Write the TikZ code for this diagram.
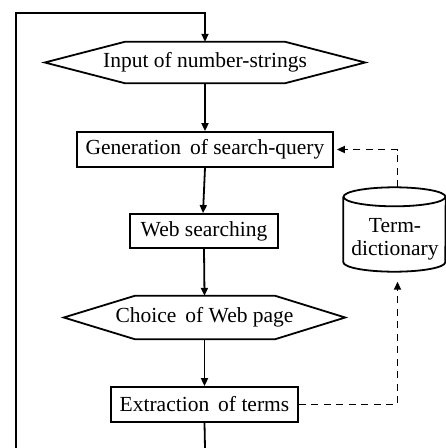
\documentclass[tikz,border=0pt]{standalone}
\usepackage{fontspec}
\setmainfont{Liberation Serif}
\usetikzlibrary{arrows.meta,calc}
\begin{document}
\begin{tikzpicture}[x=1pt,y=-1pt,
  lw/.style={line width=1.8pt},
  arrowtip/.style={-{Triangle[length=8pt,width=7pt]}},
  flow/.style={lw,arrowtip},
  dashline/.style={lw,dash pattern=on 7pt off 5.5pt},
  txt/.style={font=\fontsize{21.5}{23}\selectfont,inner sep=0pt},
  box/.style={txt,draw,lw,minimum height=35pt},
  hexarea/.style={txt,minimum height=#1}
]
\useasboundingbox (0,0) rectangle (446,448);

% main nodes
\node[hexarea=41pt,minimum width=320pt] (h1) at (205,62.5) {Input of number-strings};
\node[box,minimum width=256pt] (b2) at (205,149.5) {Generation\, of search-query};
\node[box,minimum width=148pt,minimum height=34pt] (b3) at (204,231) {Web searching};
\node[hexarea=43pt,minimum width=281pt] (h2) at (204.5,317.5) {Choice\, of Web page};
\node[box,minimum width=187pt] (b4) at (204.5,404.5) {Extraction\, of terms};

% hexagon outlines
\draw[lw] (h1.west) -- ($(h1.north west)+(80,0)$) -- ($(h1.north east)+(-80,0)$) -- (h1.east)
  -- ($(h1.south east)+(-80,0)$) -- ($(h1.south west)+(80,0)$) -- cycle;
\draw[lw] (h2.west) -- ($(h2.north west)+(71,0)$) -- ($(h2.north east)+(-70,0)$) -- (h2.east)
  -- ($(h2.south east)+(-70,0)$) -- ($(h2.south west)+(71,0)$) -- cycle;

% cylinder
\node[minimum width=102pt,minimum height=84pt,inner sep=0pt] (cyl) at (394.5,229.5) {};
\draw[lw] ([yshift=-9.5pt]cyl.north) ellipse[x radius=51pt,y radius=9.5pt];
\draw[lw] ([yshift=-9.5pt]cyl.north west) -- ([yshift=9.5pt]cyl.south west)
  arc[start angle=180,end angle=360,x radius=51pt,y radius=9.5pt]
  -- ([yshift=-9.5pt]cyl.north east);
\node[txt,align=center] (cyltext) at (395,239) {Term-\\dictionary};

% flow connectors
\coordinate (loopBL) at (16,448);
\coordinate (loopTL) at (16,13);
\coordinate (loopBR) at (205,448);
\draw[flow] (loopBL) -- (loopTL) -| (h1.north);
\draw[flow] (h1.south) -- (b2.north);
\draw[flow] (b2.south) -- ([xshift=-1pt]b3.north);
\draw[flow] (b3.south) -- (h2.north);
\draw[flow] (h2.south) -- (b4.north);
\draw[lw] (b4.south) -- (loopBR);

% dashed connectors
\draw[dashline,arrowtip] ([xshift=3pt]cyl.north) |- ([xshift=3pt]b2.east);
\draw[dashline,arrowtip] (b4.east) -| ([xshift=3pt,yshift=-10pt]cyl.south);
\end{tikzpicture}
\end{document}
